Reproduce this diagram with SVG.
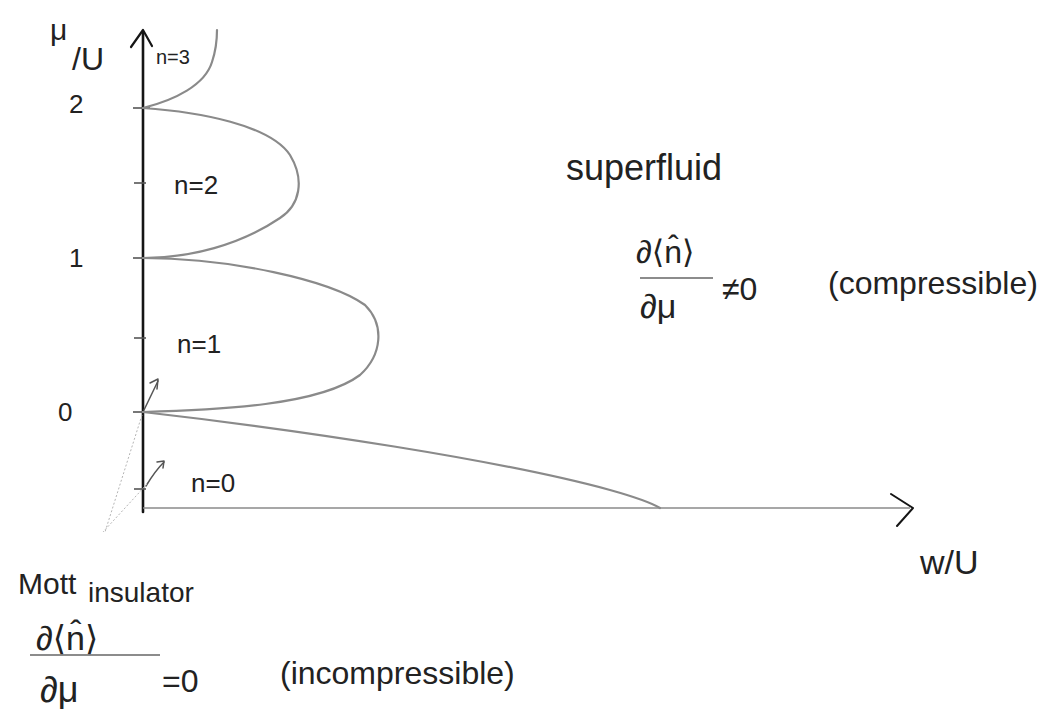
<svg xmlns="http://www.w3.org/2000/svg" width="1042" height="719" viewBox="0 0 1042 719">
<style>
  .hand { font-family: "Liberation Sans", "DejaVu Sans", sans-serif; fill: #222; }
  .curve { fill: none; stroke: #8a8a8a; stroke-width: 2.2; stroke-linecap: round; }
  .axis { fill: none; stroke: #151515; stroke-linecap: round; stroke-linejoin: round; }
  .tick { stroke: #555; stroke-width: 1.6; }
  .faint { stroke: #b5b5b5; stroke-width: 1; stroke-dasharray: 2 2; fill: none; }
  .pointer { fill: none; stroke: #555; stroke-width: 1.5; stroke-linecap: round; stroke-linejoin: round; }
  .bar { stroke: #666; stroke-width: 1.5; }
</style>
<rect width="1042" height="719" fill="#ffffff"/>

<g id="axes">
  <line class="axis" x1="143" y1="512" x2="143" y2="32" stroke-width="2.6"/>
  <polyline class="axis" points="131,47 143,30 152,46" stroke-width="2.2"/>
  <line x1="143" y1="508" x2="910" y2="508" stroke="#8a8a8a" stroke-width="1.6"/>
  <polyline class="axis" points="891,494 913,508 897,526" stroke-width="2"/>
</g>

<g id="ticks">
  <line class="tick" x1="133" y1="108" x2="150" y2="108"/>
  <line class="tick" x1="134" y1="183" x2="146" y2="183"/>
  <line class="tick" x1="133" y1="258" x2="150" y2="258"/>
  <line class="tick" x1="134" y1="338" x2="146" y2="338"/>
  <line class="tick" x1="133" y1="412" x2="150" y2="412"/>
  <line class="tick" x1="134" y1="489" x2="146" y2="489"/>
</g>

<g id="tick-labels" class="hand">
  <text x="69" y="113" font-size="26">2</text>
  <text x="69" y="267" font-size="26">1</text>
  <text x="58" y="421" font-size="26">0</text>
</g>

<g id="axis-labels" class="hand">
  <text x="50" y="40" font-size="30">μ</text>
  <text x="72" y="70" font-size="32">/U</text>
  <text x="920" y="574" font-size="34">w/U</text>
</g>

<g id="phase-boundaries">
  <path class="curve" d="M143,108 C175,100 205,85 212,62 C216,50 217,40 217,30" stroke="#555"/>
  <path class="curve" d="M143,108 C200,112 270,125 290,155 C305,180 300,205 280,218 C240,245 190,258 143,258"/>
  <path class="curve" d="M143,258 C230,258 330,280 365,305 C385,325 382,355 360,375 C320,405 220,410 143,412"/>
  <path class="curve" d="M143,412 C300,430 500,460 610,490 C635,497 650,502 660,508"/>
</g>

<g id="lobe-labels" class="hand">
  <text x="156" y="64" font-size="20">n=3</text>
  <text x="174" y="194" font-size="26">n=2</text>
  <text x="177" y="353" font-size="26">n=1</text>
  <text x="191" y="492" font-size="26">n=0</text>
</g>

<g id="pointers">
  <line class="pointer" x1="144" y1="410" x2="158" y2="381"/>
  <polyline class="pointer" points="150,383 158,379 157,389"/>
  <path class="pointer" d="M146,486 C152,476 158,468 164,462"/>
  <polyline class="pointer" points="157,462 164,461 163,468"/>
  <line class="faint" x1="142" y1="415" x2="105" y2="532"/>
  <line class="faint" x1="147" y1="484" x2="103" y2="532"/>
</g>

<g id="superfluid" class="hand">
  <text x="566" y="180" font-size="36">superfluid</text>
  <text x="636" y="263" font-size="32">∂⟨n̂⟩</text>
  <line class="bar" x1="640" y1="278" x2="713" y2="278"/>
  <text x="640" y="318" font-size="34">∂μ</text>
  <text x="722" y="300" font-size="32">≠0</text>
  <text x="828" y="294" font-size="32">(compressible)</text>
</g>

<g id="mott" class="hand">
  <text x="18" y="594" font-size="30">Mott</text>
  <text x="88" y="602" font-size="28">insulator</text>
  <text x="36" y="650" font-size="34">∂⟨n̂⟩</text>
  <line class="bar" x1="30" y1="655" x2="160" y2="655"/>
  <text x="40" y="702" font-size="36">∂μ</text>
  <text x="162" y="692" font-size="32">=0</text>
  <text x="280" y="684" font-size="32">(incompressible)</text>
</g>
</svg>
